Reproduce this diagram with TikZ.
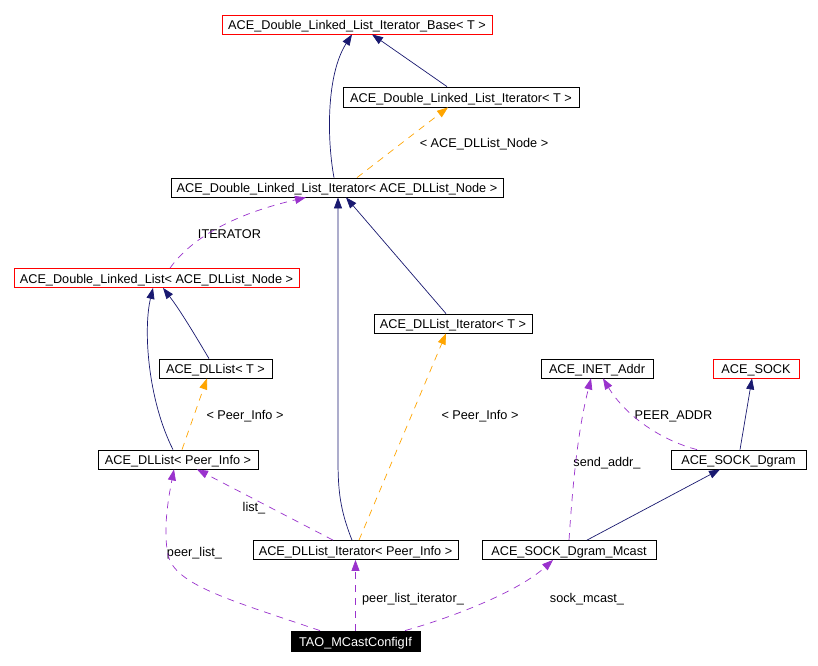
\documentclass[tikz,border=0pt]{standalone}
\usepackage{fontspec}
\setmainfont{Liberation Sans}
\usetikzlibrary{arrows.meta}
\definecolor{navy}{HTML}{191970}
\definecolor{orng}{HTML}{FFA500}
\definecolor{purp}{HTML}{9A32CD}
\begin{document}
\begin{tikzpicture}[x=1pt,y=-1pt,
  cls/.style={draw=black, fill=white, line width=0.8pt, minimum height=19pt, inner sep=0pt, text height=10.7pt, text depth=0pt, font=\fontsize{12.7}{14}\selectfont},
  redcls/.style={cls, draw=red},
  blk/.style={cls, fill=black, text=white, minimum height=20pt},
  lbl/.style={inner sep=0pt, text height=10.7pt, text depth=0pt, font=\fontsize{12.7}{14}\selectfont},
  tip/.style={-{Triangle[length=11pt,width=8pt]}},
  inh/.style={draw=navy, line width=0.7pt, tip},
  tmpl/.style={draw=orng, line width=0.7pt, dash pattern=on 7pt off 6pt, tip},
  usage/.style={draw=purp, line width=0.7pt, dash pattern=on 7pt off 6pt, tip}]
\useasboundingbox (0,0) rectangle (818,665);
\fill[white] (0,0) rectangle (818,665);
% nodes
\node[redcls, minimum width=270pt] (base) at (357,24.5) {ACE\_Double\_Linked\_List\_Iterator\_Base< T >};
\node[cls, minimum width=236pt, minimum height=20pt] (itert) at (461,97) {ACE\_Double\_Linked\_List\_Iterator< T >};
\node[cls, minimum width=332pt] (iternode) at (337,187.5) {ACE\_Double\_Linked\_List\_Iterator< ACE\_DLList\_Node >};
\node[redcls, minimum width=285pt] (dllnode) at (156.5,278) {ACE\_Double\_Linked\_List< ACE\_DLList\_Node >};
\node[cls, minimum width=113pt] (dllistt) at (215.5,368.5) {ACE\_DLList< T >};
\node[cls, minimum width=158pt] (dliterT) at (453,323.5) {ACE\_DLList\_Iterator< T >};
\node[cls, minimum width=112pt] (inet) at (597,368.5) {ACE\_INET\_Addr};
\node[redcls, minimum width=86pt] (sock) at (756,368.5) {ACE\_SOCK};
\node[cls, minimum width=135pt] (dgram) at (738.5,459.5) {ACE\_SOCK\_Dgram};
\node[cls, minimum width=160pt] (dllistpi) at (178,459.5) {ACE\_DLList< Peer\_Info >};
\node[cls, minimum width=205pt] (dliterpi) at (355.5,550) {ACE\_DLList\_Iterator< Peer\_Info >};
\node[cls, minimum width=174pt] (mcast) at (569,550) {ACE\_SOCK\_Dgram\_Mcast};
\node[blk, minimum width=129pt] (tao) at (355.5,641) {TAO\_MCastConfigIf};
% labels
\node[lbl] (l1) at (484,142) {< ACE\_DLList\_Node >};
\node[lbl] (l2) at (229.5,233) {ITERATOR};
\node[lbl] (l3) at (245,414) {< Peer\_Info >};
\node[lbl] (l4) at (480,414) {< Peer\_Info >};
\node[lbl] (l5) at (673.5,414) {PEER\_ADDR};
\node[lbl] (l6) at (607,461) {send\_addr\_};
\node[lbl] (l7) at (254,506) {list\_};
\node[lbl] (l8) at (194.5,551) {peer\_list\_};
\node[lbl] (l9) at (413,597) {peer\_list\_iterator\_};
\node[lbl] (l10) at (587,597) {sock\_mcast\_};
% edges
\draw[inh] ([xshift=-3pt]iternode.north) .. controls (327,140) and (326,75) .. ([xshift=-5pt]base.south);
\draw[inh] ([xshift=-14pt]itert.north) -- ([xshift=15pt]base.south);
\draw[tmpl] ([xshift=20pt]iternode.north) -- ([xshift=-13pt]itert.south);
\draw[usage] ([xshift=13.5pt]dllnode.north) .. controls (190,240) and (230,215) .. ([xshift=-31pt]iternode.south);
\draw[inh] ([xshift=-6.5pt]dllistt.north) .. controls (195,335) and (180,310) .. ([xshift=6.5pt]dllnode.south);
\draw[inh] ([xshift=-5pt]dllistpi.north) .. controls (148,400) and (143,330) .. ([xshift=-3.5pt]dllnode.south);
\draw[tmpl] ([xshift=4pt]dllistpi.north) -- ([xshift=-8.5pt]dllistt.south);
\draw[inh] ([xshift=-3.5pt]dliterpi.north) .. controls (340,510) and (338,490) .. (338,460) -- ([xshift=1pt]iternode.south);
\draw[inh] ([xshift=-7pt]dliterT.north) -- ([xshift=9pt]iternode.south);
\draw[tmpl] ([xshift=3.5pt]dliterpi.north) -- ([xshift=-7pt]dliterT.south);
\draw[usage] ([xshift=-22.5pt]dliterpi.north) -- ([xshift=19pt]dllistpi.south);
\draw[usage] ([xshift=-35.5pt]tao.north) .. controls (230,600) and (175,585) .. (168,555) .. controls (163,530) and (168,500) .. ([xshift=-4pt]dllistpi.south);
\draw[usage] (tao.north) -- (dliterpi.south);
\draw[usage] ([xshift=49.5pt]tao.north) .. controls (460,615) and (520,590) .. ([xshift=-16pt]mcast.south);
\draw[usage] (mcast.north) .. controls (573,480) and (578,430) .. ([xshift=-6pt]inet.south);
\draw[usage] ([xshift=-41.5pt]dgram.north) .. controls (660,440) and (625,415) .. ([xshift=6pt]inet.south);
\draw[inh] ([xshift=1.5pt]dgram.north) -- ([xshift=-4pt]sock.south);
\draw[inh] ([xshift=18pt]mcast.north) -- ([xshift=-18.5pt]dgram.south);
\end{tikzpicture}
\end{document}
